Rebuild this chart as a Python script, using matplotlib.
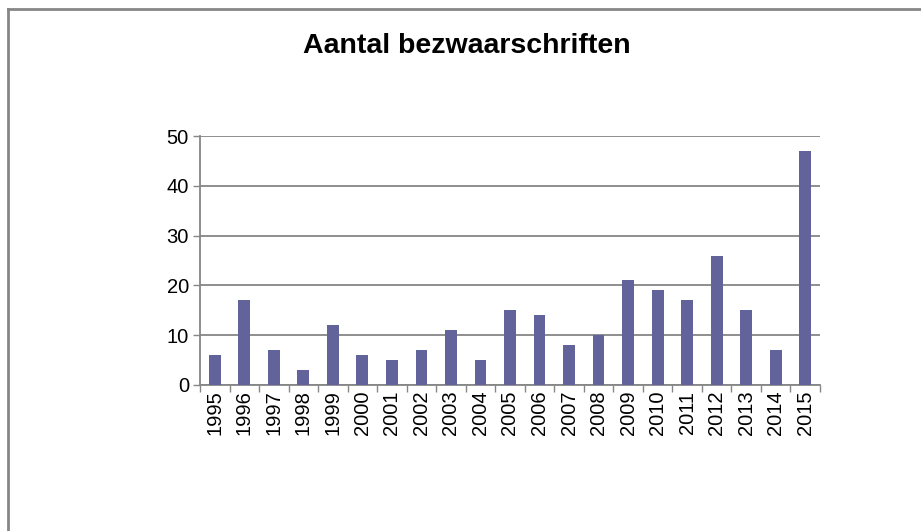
import matplotlib
matplotlib.use('Agg')
from matplotlib import pyplot as plt
import numpy as np

years = ['1995', '1996', '1997', '1998', '1999', '2000', '2001', '2002', '2003', '2004', '2005',
         '2006', '2007', '2008', '2009', '2010', '2011', '2012', '2013', '2014', '2015']
counts = [6, 17, 7, 3, 12, 6, 5, 7, 11, 5, 15, 14, 8, 10, 21, 19, 17, 26, 15, 7, 47]
y_ticks = [0, 10, 20, 30, 40, 50]

plt.rcParams['font.family'] = ['Liberation Sans', 'DejaVu Sans']

fig = plt.figure(figsize=(9.21, 5.31), dpi=100)
ax = fig.add_axes([200 / 921, 146 / 531, 620 / 921, 249 / 531])

x = np.arange(len(years))
ax.bar(x, counts, width=0.4, color='#62639a', zorder=3)

ax.set_xlim(-0.5, len(years) - 0.5)
ax.set_ylim(0, 50)
ax.set_yticks(y_ticks)
ax.tick_params(axis='y', labelsize=14.5, colors='#868686', labelcolor='black',
               length=5, width=1, pad=3)
# Excel-style: category labels in the middle, tick marks on the boundaries
ax.set_xticks(x)
ax.set_xticklabels(years, rotation=90, fontsize=14.5)
ax.tick_params(axis='x', length=0, pad=4)
ax.set_xticks(np.arange(-0.5, len(years)), minor=True)
ax.tick_params(axis='x', which='minor', length=5, width=1, colors='#868686')

ax.yaxis.grid(True, color='#868686', linewidth=1.3, zorder=0)
for side in ['top', 'right']:
    ax.spines[side].set_visible(False)
for side in ['left', 'bottom']:
    ax.spines[side].set_color('#868686')
    ax.spines[side].set_linewidth(1.3)

fig.text(467 / 921, 1 - 46 / 531, 'Aantal bezwaarschriften', ha='center', va='center',
         fontsize=20.5, fontweight='bold')

# chart frame (only top and left edges are visible)
fig.add_artist(plt.Line2D([7.5 / 921, 7.5 / 921], [0, 1 - 9 / 531], color='#868686',
                          linewidth=2, transform=fig.transFigure))
fig.add_artist(plt.Line2D([7.5 / 921, 1], [1 - 9 / 531, 1 - 9 / 531], color='#868686',
                          linewidth=2, transform=fig.transFigure))

fig.savefig('out.png', dpi=100)
